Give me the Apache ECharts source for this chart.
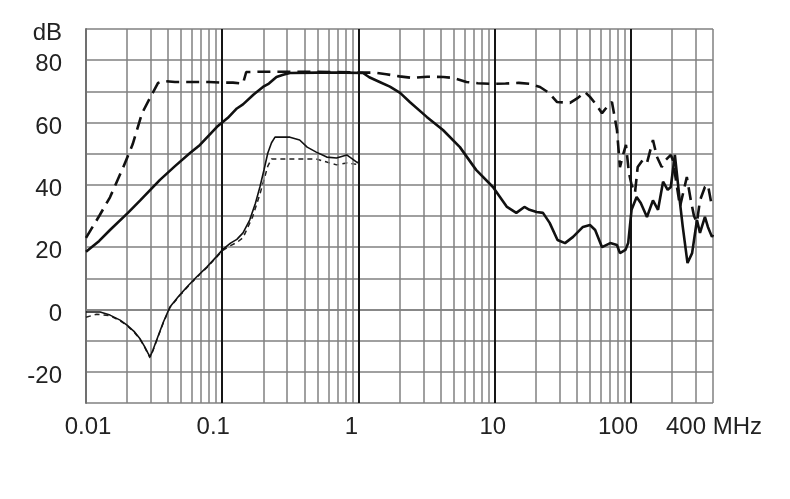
<!DOCTYPE html>
<html>
<head>
<meta charset="utf-8">
<script src="https://cdn.jsdelivr.net/npm/echarts@6/dist/echarts.min.js"></script>
<style>
html,body{margin:0;padding:0;background:#fff;}
#chart{width:790px;height:499px;}
</style>
</head>
<body>
<div id="chart"></div>
<script>
// ---- data (frequency in MHz, level in dB) ----
var dashFreq = [0.01,0.0125,0.015,0.0187,0.022,0.0258,0.03,0.0338,0.0367,0.045,0.06,0.08,0.1,0.12,0.142,0.15,0.2,0.4,0.7,1.0,1.3,1.6,2.0,2.5,3.2,4.2,5,6.2,7.5,9.7,12,15,18,21.5,25,28.6,35.7,40.8,45.9,50,55,61.3,66.7,72.5,78.9,83,88,91.9,96.6,101,107,112,122,131,145,155,168,180,196,203,229,257,275,290,305,321,349,367,393,400];
var dashVal  = [23,30,36,45.5,53,63,68.5,72.7,73.3,73,73,73,72.8,72.8,72.5,76.2,76.3,76.3,76.2,76,76,75.5,74.8,74.3,74.7,74.6,74.3,73,72.6,72.4,72.5,72.7,72.4,71.4,69.5,66.6,66.3,67.9,69.8,68.2,66,63,65,66.6,57.6,45.7,50,52.8,43.8,40,37.4,45.7,48,47,54.4,49,45.7,48,49.6,48,33,42.5,35,30,28,35,39.3,40,33,33];

var solidFreq = [0.01,0.0125,0.015,0.0203,0.025,0.0349,0.045,0.058,0.0686,0.0915,0.11,0.128,0.142,0.17,0.199,0.22,0.25,0.28,0.314,0.5,0.8,1.08,1.2,1.43,1.7,2.02,2.39,3.17,4.17,5.55,7.3,9.7,12.3,14.4,16.5,18,20.3,22.6,25.3,28.9,32.8,37.6,44.4,50,54.6,61.3,70.5,78.9,83,91,95.4,101,110,118,131,145,158,172,186,196,210,229,240,260,281,305,321,349,367,393,400];
var solidVal  = [18.5,22,25.5,31,35,41.6,46,50.2,52.8,58.6,61.5,64.5,65.8,69,71.4,72.5,74.6,75.3,75.9,76,76,75.9,74.5,73,71.5,69.5,66.5,61.8,57.6,52.1,44.8,39.3,32.9,31,32.9,32,31.3,31,27.8,22.3,21.3,23.3,26.5,27.1,25.5,20,21.3,20.7,18.1,19.1,21.3,32,36.1,34.2,29.7,35,32,41,38.4,39.3,49.6,34.2,26.5,14.9,18.1,28.7,24.6,29.7,26.5,23.3,24];

var thinFreq = [0.01,0.0127,0.015,0.0178,0.02,0.0225,0.025,0.027,0.0285,0.0295,0.031,0.033,0.035,0.037,0.0413,0.048,0.055,0.065,0.077,0.09,0.101,0.115,0.128,0.142,0.159,0.175,0.189,0.203,0.216,0.23,0.244,0.314,0.37,0.42,0.49,0.585,0.69,0.82,0.97,1.0];
var thinVal  = [-0.8,-0.8,-1.8,-3.4,-5,-7,-9.5,-12,-14,-15.2,-13,-9.8,-6.8,-4,0.8,4.3,7.2,10.5,13.6,16.8,19.3,21.3,22.5,24.6,28.7,34,39.3,45,50.2,53.5,55.3,55.3,54.4,52.1,50.5,48.9,48.6,49.6,47.3,47];

var thinDashFreq = [0.01,0.012,0.015,0.0178,0.02,0.0225,0.025,0.027,0.0285,0.0295,0.031,0.033,0.035,0.037,0.0413,0.048,0.055,0.065,0.077,0.09,0.101,0.115,0.128,0.142,0.167,0.189,0.216,0.23,0.49,0.585,0.69,0.82,1.0];
var thinDashVal  = [-2.5,-1.5,-2,-3.6,-5.2,-7.2,-9.7,-12.2,-14.2,-15.5,-13.2,-10,-7,-4.2,0.6,4.1,7,10.3,13.4,16.6,19,20.5,21.5,23,29.7,37,46,48.3,48.3,47.3,46.4,47,46.5];

// grid line positions (MHz)
var decadeLines = [0.1, 1, 10, 100];
var minorLines = [0.02,0.03,0.04,0.05,0.06,0.07,0.08,0.09,
                  0.2,0.3,0.4,0.5,0.6,0.7,0.8,0.9,
                  2,3,4,5,6,7,8,9,
                  20,30,40,50,60,70,80,90,
                  200,300,400];

// tick labels
var yLabels = {'-20':'-20','0':'0','20':'20','40':'40','60':'60','80':'80','90':'dB'};
var xLabels = ['0.01','0.1','1','10','100','400 MHz'];

function pairs(xs, ys){ return xs.map(function(x,i){ return [x, ys[i]]; }); }

var FONT = 'Liberation Sans, Arial, sans-serif';
var chart = echarts.init(document.getElementById('chart'));
chart.setOption({
  animation: false,
  backgroundColor: '#ffffff',
  grid: { left: 86, right: 77, top: 29, bottom: 96, containLabel: false },
  xAxis: {
    type: 'log', logBase: 10, min: 0.01, max: 400,
    axisLine: { show: true, lineStyle: { color: '#808080', width: 1.5 } },
    axisTick: { show: false },
    splitLine: { show: false },
    axisLabel: {
      fontSize: 24, fontFamily: FONT, color: '#222', margin: 12,
      formatter: function(v){
        var i;
        if (Math.abs(v - 400) < 1) i = 5;
        else i = Math.round(Math.log10(v)) + 2;
        var s = xLabels[i];
        var styles = ['p0','p1','p2','p3','p4','p5'];
        return '{' + styles[i] + '|' + s + '}';
      },
      rich: {
        p0: { fontSize: 24, fontFamily: FONT, color: '#222', padding: [0, 0, 0, 4] },
        p1: { fontSize: 24, fontFamily: FONT, color: '#222', padding: [0, 18, 0, 0] },
        p2: { fontSize: 24, fontFamily: FONT, color: '#222', padding: [0, 14, 0, 0] },
        p3: { fontSize: 24, fontFamily: FONT, color: '#222', padding: [0, 4, 0, 0] },
        p4: { fontSize: 24, fontFamily: FONT, color: '#222', padding: [0, 26, 0, 0] },
        p5: { fontSize: 24, fontFamily: FONT, color: '#222', padding: [0, 0, 0, 2] }
      }
    }
  },
  yAxis: {
    type: 'value', min: -30, max: 90, interval: 10,
    axisLine: { show: true, lineStyle: { color: '#707070', width: 2 } },
    axisTick: { show: false },
    splitLine: { show: true, lineStyle: { color: '#808080', width: 1.5 } },
    axisLabel: {
      fontSize: 24, fontFamily: FONT, color: '#222', margin: 24,
      formatter: function(v){
        var k = String(v);
        return yLabels.hasOwnProperty(k) ? '{a|' + yLabels[k] + '}' : '';
      },
      rich: {
        a: { fontSize: 24, fontFamily: FONT, color: '#222', padding: [9, 0, 0, 0] }
      }
    }
  },
  series: [
    {
      type: 'line', data: [], silent: true, z: 1,
      markLine: {
        silent: true, symbol: ['none','none'], label: { show: false },
        animation: false,
        lineStyle: { color: '#808080', width: 1.5, type: 'solid' },
        emphasis: { disabled: true },
        data: minorLines.map(function(f){ return { xAxis: f }; })
      }
    },
    {
      type: 'line', data: [], silent: true, z: 1,
      markLine: {
        silent: true, symbol: ['none','none'], label: { show: false },
        animation: false,
        lineStyle: { color: '#151515', width: 2, type: 'solid' },
        emphasis: { disabled: true },
        data: decadeLines.map(function(f){ return { xAxis: f }; })
      }
    },
    {
      name: 'dashed', type: 'line', showSymbol: false, z: 5,
      data: pairs(dashFreq, dashVal),
      lineStyle: { color: '#111', width: 2.6, type: [13, 7] }
    },
    {
      name: 'solid', type: 'line', showSymbol: false, z: 5,
      data: pairs(solidFreq, solidVal),
      lineStyle: { color: '#111', width: 2.6 }
    },
    {
      name: 'thinDash', type: 'line', showSymbol: false, z: 4,
      data: pairs(thinDashFreq, thinDashVal),
      lineStyle: { color: '#222', width: 1.5, type: [5, 4] }
    },
    {
      name: 'thin', type: 'line', showSymbol: false, z: 5,
      data: pairs(thinFreq, thinVal),
      lineStyle: { color: '#111', width: 1.6 }
    }
  ]
});
</script>
</body>
</html>
